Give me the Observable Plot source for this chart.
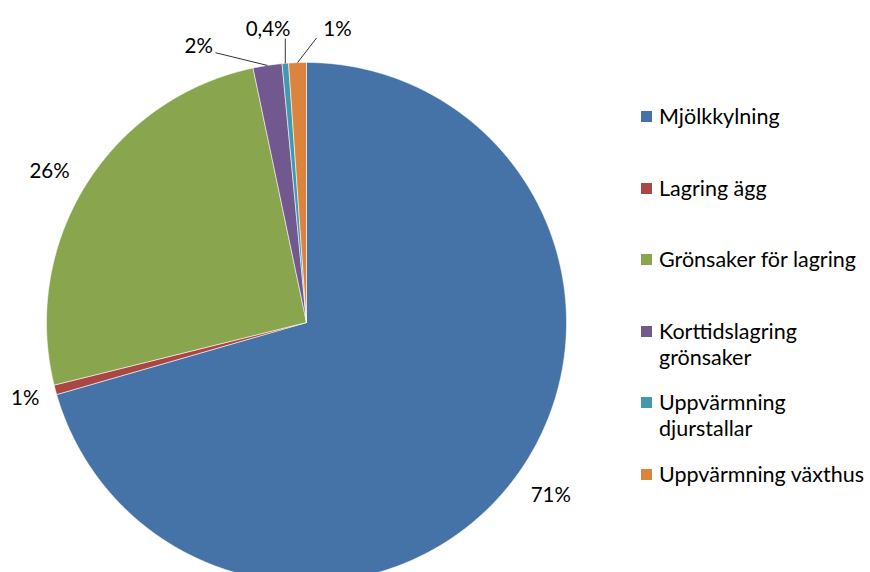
<!DOCTYPE html>
<html>
<head>
<meta charset="utf-8">
<script src="https://cdn.jsdelivr.net/npm/d3@7"></script>
<script src="https://cdn.jsdelivr.net/npm/@observablehq/plot@0.6"></script>
<style>
  html, body { margin: 0; padding: 0; background: #fff; overflow: hidden; }
  #wrap { position: relative; width: 870px; height: 572px; overflow: hidden; font-family: Lato, "Open Sans", sans-serif; }
  #legend { position: absolute; left: 641px; top: 103px; }
  .item { display: flex; align-items: flex-start; height: 71.6px; }
  .sw { width: 11px; height: 11px; margin-top: 8px; margin-right: 7px; flex: none; }
  .lab { font-size: 21.5px; line-height: 26px; color: #000; width: 214px; }
</style>
</head>
<body>
<div id="wrap"><div id="legend"></div></div>
<script>
const categories = ["Mjölkkylning", "Lagring ägg", "Grönsaker för lagring", "Korttidslagring grönsaker", "Uppvärmning djurstallar", "Uppvärmning växthus"];
const values = [70.6, 0.6, 25.6, 1.8, 0.4, 1.1];
const labels = ["71%", "1%", "26%", "2%", "0,4%", "1%"];
const colors = ["#4572A7", "#AA4643", "#89A54E", "#71588F", "#4198AF", "#DB843D"];

// layout only (degrees / radius factors), not data
const labelRadius = [1.152, 1.12, 1.146, 1.14, 1.135, 1.135];
const labelShift = [-1.6, 0, -1.7, -12.7, -2.8, 8];
const leaderShift = [null, null, null, -10, 0.4, 4];
const leaderRadius = 1.095;

const arcs = d3.pie().sort(null).value(d => d)(values);
const rad = Math.PI / 180;

const slicePts = [];
arcs.forEach((a, i) => {
  const key = categories[i];
  slicePts.push({key, x: 0, y: 0});
  const n = Math.max(2, Math.ceil((a.endAngle - a.startAngle) / (0.25 * rad)));
  for (let k = 0; k <= n; k++) {
    const t = a.startAngle + (a.endAngle - a.startAngle) * k / n;
    slicePts.push({key, x: Math.sin(t), y: Math.cos(t)});
  }
  slicePts.push({key, x: 0, y: 0});
});

const labelData = arcs.map((a, i) => {
  const mid = (a.startAngle + a.endAngle) / 2 + labelShift[i] * rad;
  return {text: labels[i], x: labelRadius[i] * Math.sin(mid), y: labelRadius[i] * Math.cos(mid)};
});

const leaderData = arcs.map((a, i) => {
  if (leaderShift[i] === null) return null;
  const mid = (a.startAngle + a.endAngle) / 2;
  const s = mid + leaderShift[i] * rad;
  return {x1: leaderRadius * Math.sin(s), y1: leaderRadius * Math.cos(s), x2: Math.sin(mid), y2: Math.cos(mid)};
}).filter(d => d);

const chart = Plot.plot({
  width: 870,
  height: 572,
  style: {fontFamily: "Lato, 'Open Sans', sans-serif", background: "white"},
  x: {domain: [-1, 1], range: [46, 566], axis: null},
  y: {domain: [-1, 1], range: [582, 62], axis: null},
  color: {domain: categories, range: colors},
  marks: [
    Plot.line(slicePts, {x: "x", y: "y", z: "key", fill: "key", stroke: "white", strokeWidth: 0.7, strokeOpacity: 0.8}),
    Plot.link(leaderData, {x1: "x1", y1: "y1", x2: "x2", y2: "y2", stroke: "black", strokeWidth: 0.8}),
    Plot.text(labelData, {x: "x", y: "y", text: "text", fontSize: 20.5, fill: "black"})
  ]
});
document.getElementById("wrap").prepend(chart);

const legend = d3.select("#legend");
categories.forEach((c, i) => {
  const it = legend.append("div").attr("class", "item");
  it.append("div").attr("class", "sw").style("background", colors[i]);
  it.append("div").attr("class", "lab").text(c);
});
</script>
</body>
</html>
